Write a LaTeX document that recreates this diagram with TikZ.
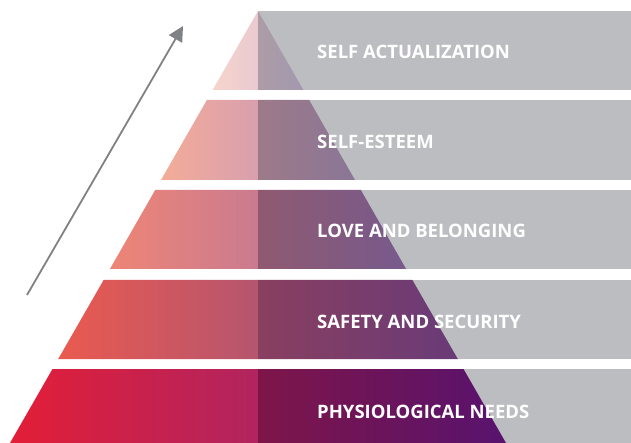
\documentclass[tikz,border=0pt]{standalone}
\usepackage{fontspec}
\setmainfont{Open Sans}
\usetikzlibrary{arrows.meta}
\definecolor{bandgray}{HTML}{BCBDC0}
\definecolor{arrowgray}{HTML}{808184}
\tikzset{
  band/.style={fill=bandgray, draw=none},
  label/.style={anchor=base west, inner sep=0pt, text=white,
    font=\fontsize{18.5}{22}\selectfont\bfseries}
}
\begin{document}
\begin{tikzpicture}[x=1pt, y=-1pt]
      \useasboundingbox (0,0) rectangle (631,443);
      \fill[band] (258,11) rectangle (631,90);
      \fill[band] (258,100) rectangle (631,180);
      \fill[band] (258,190) rectangle (631,269);
      \fill[band] (258,280) rectangle (631,359);
      \fill[band] (258,369) rectangle (631,443);
      \shade[left color={rgb,255:red,246;green,213;blue,203}, right color={rgb,255:red,234;green,201;blue,210}]
        (258,11) -- (212.6,90) -- (258,90) -- cycle;
      \shade[left color={rgb,255:red,173;green,156;blue,166}, right color={rgb,255:red,162;green,152;blue,175}]
        (258,11) -- (303.4,90) -- (258,90) -- cycle;
      \shade[left color={rgb,255:red,244;green,172;blue,152}, right color={rgb,255:red,216;green,159;blue,174}]
        (206.9,100) -- (161.0,180) -- (258,180) -- (258,100) -- cycle;
      \shade[left color={rgb,255:red,157;green,122;blue,136}, right color={rgb,255:red,138;green,118;blue,151}]
        (258,100) -- (309.1,100) -- (355.0,180) -- (258,180) -- cycle;
      \shade[left color={rgb,255:red,238;green,133;blue,118}, right color={rgb,255:red,202;green,123;blue,144}]
        (155.2,190) -- (109.9,269) -- (258,269) -- (258,190) -- cycle;
      \shade[left color={rgb,255:red,143;green,90;blue,112}, right color={rgb,255:red,119;green,90;blue,141}]
        (258,190) -- (360.8,190) -- (406.1,269) -- (258,269) -- cycle;
      \shade[left color={rgb,255:red,234;green,90;blue,79}, right color={rgb,255:red,181;green,85;blue,111}]
        (103.6,280) -- (58.2,359) -- (258,359) -- (258,280) -- cycle;
      \shade[left color={rgb,255:red,137;green,63;blue,95}, right color={rgb,255:red,105;green,59;blue,120}]
        (258,280) -- (412.4,280) -- (457.8,359) -- (258,359) -- cycle;
      \shade[left color={rgb,255:red,227;green,30;blue,55}, right color={rgb,255:red,177;green,36;blue,95}]
        (52.5,369) -- (10,443) -- (258,443) -- (258,369) -- cycle;
      \shade[left color={rgb,255:red,126;green,21;blue,73}, right color={rgb,255:red,88;green,19;blue,110}]
        (258,369) -- (463.5,369) -- (506,443) -- (258,443) -- cycle;
      \draw
        (317,59) node[label] (selfact) {SELF ACTUALIZATION}
        (317,149) node[label] (esteem) {SELF-ESTEEM}
        (317,238) node[label] (love) {LOVE AND BELONGING}
        (317,328) node[label] (safety) {SAFETY AND SECURITY}
        (317,418) node[label] (physio) {PHYSIOLOGICAL NEEDS};
      \coordinate (rise0) at (27,295);
      \coordinate (rise1) at (183,26);
      \draw[arrowgray, line width=1.8pt, -{Triangle[length=15pt, width=15pt]}] (rise0) -- (rise1);
    \end{tikzpicture}
\end{document}
